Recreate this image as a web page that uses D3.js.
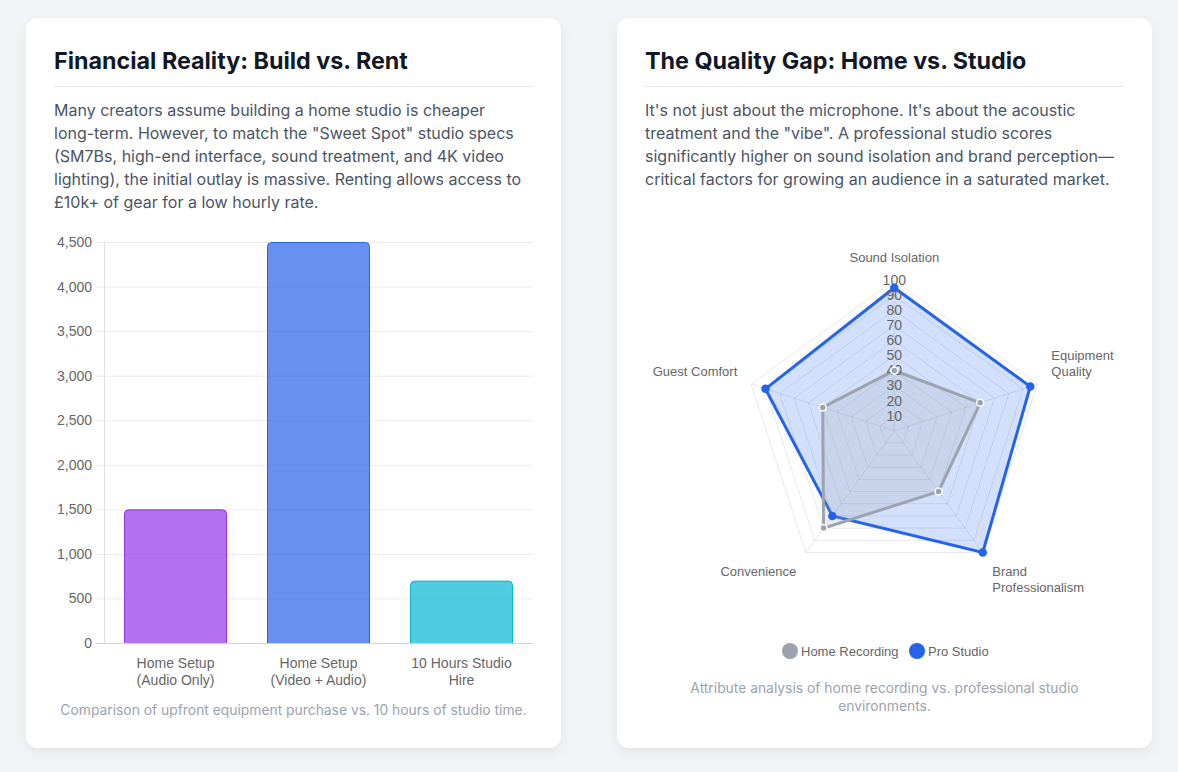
<!DOCTYPE html>
<html>
<head>
<meta charset="utf-8">
<script src="https://d3js.org/d3.v7.min.js"></script>
<style>
  body { margin: 0; background: #f3f4f6; font-family: Inter, "Noto Sans", sans-serif; }
  .wrap { display: flex; gap: 56px; padding: 18px 26px; }
  .card { position: relative; width: 535px; height: 730px; box-sizing: border-box; background: #fff;
          border-radius: 12px; box-shadow: 0 4px 14px rgba(0,0,0,0.07); padding: 28px 28px 0 28px; }
  h2 { margin: 0; font-size: 23.3px; line-height: 30px; font-weight: 700; color: #111827;
       padding-bottom: 10px; border-bottom: 1px solid #e5e7eb; }
  p.desc { margin: 12px 0 0 0; width: 473px; font-size: 16px; line-height: 23px; color: #4b5563; }
  svg { position: absolute; left: 28px; }
  .cap { position: absolute; left: 28px; width: 479px; text-align: center; font-size: 13.85px;
         line-height: 18px; color: #9ca3af; margin: 0; }
  .chart text { font-family: "Liberation Sans", Arial, sans-serif; }
</style>
</head>
<body>
<div class="wrap">
  <div class="card">
    <h2>Financial Reality: Build vs. Rent</h2>
    <p class="desc">Many creators assume building a home studio is cheaper long-term. However, to match the "Sweet Spot" studio specs (SM7Bs, high-end interface, sound treatment, and 4K video lighting), the initial outlay is massive. Renting allows access to £10k+ of gear for a low hourly rate.</p>
    <svg id="bar" class="chart" width="479" height="468" style="top:214px"></svg>
    <p class="cap" style="top:683px">Comparison of upfront equipment purchase vs. 10 hours of studio time.</p>
  </div>
  <div class="card">
    <h2>The Quality Gap: Home vs. Studio</h2>
    <p class="desc">It's not just about the microphone. It's about the acoustic treatment and the "vibe". A professional studio scores significantly higher on sound isolation and brand perception—critical factors for growing an audience in a saturated market.</p>
    <svg id="radar" class="chart" width="479" height="488" style="top:173px"></svg>
    <p class="cap" style="top:661px">Attribute analysis of home recording vs. professional studio environments.</p>
  </div>
</div>
<script>
// bar chart data
const costLabels = [["Home Setup", "(Audio Only)"], ["Home Setup", "(Video + Audio)"], ["10 Hours Studio", "Hire"]];
const costValues = [1500, 4500, 700];
const costTicks = [0, 500, 1000, 1500, 2000, 2500, 3000, 3500, 4000, 4500];
const barFill = ["rgba(147,51,234,0.7)", "rgba(37,99,235,0.7)", "rgba(6,182,212,0.7)"];
const barStroke = ["#9333ea", "#2563eb", "#06b6d4"];

// radar data
const attributes = [["Sound Isolation"], ["Equipment", "Quality"], ["Brand", "Professionalism"], ["Convenience"], ["Guest Comfort"]];
const homeScores = [40, 60, 50, 80, 50];
const studioScores = [95, 95, 100, 70, 90];
const radarTicks = [10, 20, 30, 40, 50, 60, 70, 80, 90, 100];

// ---------- bar chart ----------
{
  const svg = d3.select("#bar");
  const keys = costLabels.map(d => d.join(" "));
  const x = d3.scaleBand().domain(keys).range([50, 479]).paddingInner(0.28).paddingOuter(0.14);
  const y = d3.scaleLinear().domain([0, 4500]).range([411, 10]);

  // grid
  svg.append("g").selectAll("line").data(costTicks).join("line")
    .attr("x1", 42).attr("x2", 479)
    .attr("y1", d => y(d) + 0.5).attr("y2", d => y(d) + 0.5)
    .attr("stroke", d => d === 0 ? "#d4d4d4" : "#ececec");

  svg.append("line").attr("x1", 50.5).attr("x2", 50.5).attr("y1", y(4500)).attr("y2", y(0))
    .attr("stroke", "#e0e0e0");

  const ya = svg.append("g").attr("transform", "translate(50,0)")
    .call(d3.axisLeft(y).tickValues(costTicks).tickFormat(d3.format(",")).tickSize(0).tickPadding(12));
  ya.select(".domain").remove();
  ya.selectAll("text").attr("font-size", 14).attr("fill", "#666");

  // bars with rounded tops
  const r = 4;
  svg.append("g").selectAll("path").data(costValues).join("path")
    .attr("d", (d, i) => {
      const x0 = x(keys[i]) + 0.5, x1 = x(keys[i]) + x.bandwidth() - 0.5, y0 = y(d) + 0.5, yb = y(0);
      return `M${x0},${yb} V${y0 + r} Q${x0},${y0} ${x0 + r},${y0} H${x1 - r} Q${x1},${y0} ${x1},${y0 + r} V${yb}`;
    })
    .attr("fill", (d, i) => barFill[i])
    .attr("stroke", (d, i) => barStroke[i]).attr("stroke-width", 1);

  const xa = svg.append("g").attr("transform", `translate(0,${y(0)})`)
    .call(d3.axisBottom(x).tickSize(0).tickFormat(() => ""));
  xa.select(".domain").remove();
  xa.selectAll(".tick text").each(function(d, i) {
    const t = d3.select(this).attr("y", 0).attr("dy", null);
    costLabels[i].forEach((s, k) => t.append("tspan").attr("x", 0).attr("y", 25 + k * 17).text(s));
  }).attr("font-size", 14).attr("fill", "#666");
}

// ---------- radar chart ----------
{
  const svg = d3.select("#radar");
  const cx = 249.3, cy = 239.7;
  const r = d3.scaleLinear().domain([0, 100]).range([0, 150.5]);
  const ang = i => (-90 + 72 * i) * Math.PI / 180;
  const pt = (v, i) => [cx + r(v) * Math.cos(ang(i)), cy + r(v) * Math.sin(ang(i))];
  const n = attributes.length;

  const g = svg.append("g");
  g.selectAll("polygon.ring").data(radarTicks).join("polygon")
    .attr("points", v => d3.range(n).map(i => pt(v, i).join(",")).join(" "))
    .attr("fill", "none").attr("stroke", "rgba(0,0,0,0.09)");
  g.selectAll("line.spoke").data(d3.range(n)).join("line")
    .attr("x1", cx).attr("y1", cy)
    .attr("x2", i => pt(100, i)[0]).attr("y2", i => pt(100, i)[1])
    .attr("stroke", "rgba(0,0,0,0.09)");

  const line = d3.line().curve(d3.curveLinearClosed);
  const series = [
    { vals: studioScores, stroke: "#2563eb", fill: "rgba(37,99,235,0.2)", pfill: "#2563eb", pstroke: "#2563eb" },
    { vals: homeScores, stroke: "#9ca3af", fill: "rgba(156,163,175,0.2)", pfill: "#9ca3af", pstroke: "#fff" }
  ];
  series.forEach(s => {
    g.append("path").attr("d", line(s.vals.map(pt)))
      .attr("fill", s.fill).attr("stroke", s.stroke).attr("stroke-width", 3).attr("stroke-linejoin", "miter");
  });

  // tick labels
  g.selectAll("text.tick").data(radarTicks).join("text")
    .attr("x", cx).attr("y", v => cy - r(v)).attr("dy", "0.35em")
    .attr("text-anchor", "middle").attr("font-size", 14).attr("fill", "#666").text(v => v);

  series.forEach(s => {
    g.append("g").selectAll("circle").data(s.vals).join("circle")
      .attr("cx", (v, i) => pt(v, i)[0]).attr("cy", (v, i) => pt(v, i)[1]).attr("r", 3.5)
      .attr("fill", s.pfill).attr("stroke", s.pstroke).attr("stroke-width", 1.5);
  });

  // point labels
  attributes.forEach((lines, i) => {
    const c = Math.cos(ang(i)), sn = Math.sin(ang(i));
    const px = cx + (r(100) + 12) * c + (Math.abs(c) < 0.01 ? 0 : Math.sign(c) * 2.5);
    const py = cy + (r(100) + 12) * sn;
    const anchor = Math.abs(c) < 0.01 ? "middle" : (c > 0 ? "start" : "end");
    const lh = 15.5;
    const top = sn < -0.9 ? py - 17 : (sn < 0 ? py - lines.length * lh : py + 3);
    const t = g.append("text").attr("text-anchor", anchor).attr("font-size", 13).attr("fill", "#666");
    lines.forEach((s, k) => t.append("tspan").attr("x", px).attr("y", top + k * lh + 11).text(s));
  });

  // legend
  const names = ["Home Recording", "Pro Studio"], cols = ["#9ca3af", "#2563eb"];
  const lg = svg.append("g").attr("transform", "translate(0,460)");
  const lx = [145, 272];
  names.forEach((nm, i) => {
    lg.append("circle").attr("cx", lx[i]).attr("cy", 0).attr("r", 8).attr("fill", cols[i]);
    lg.append("text").attr("x", lx[i] + 11).attr("y", 0).attr("dy", "0.35em")
      .attr("font-size", 13).attr("fill", "#666").text(nm);
  });
}
</script>
</body>
</html>
